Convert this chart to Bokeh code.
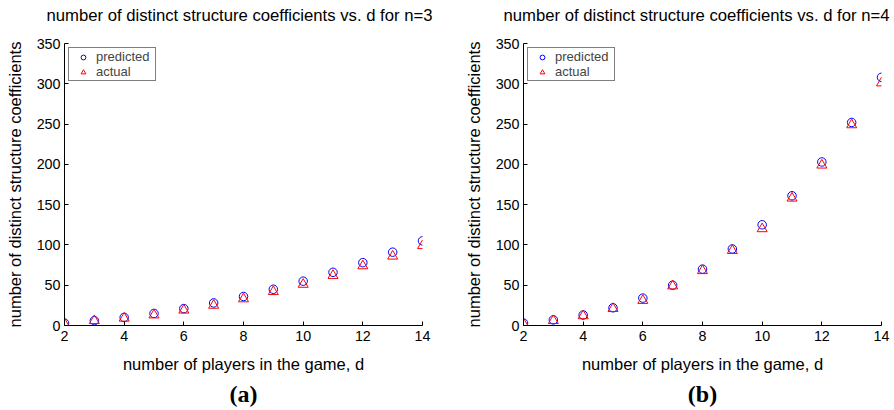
from bokeh.plotting import figure
from bokeh.layouts import row
from bokeh.models import Range1d, FixedTicker, Legend, LegendItem, Title
from bokeh.embed import file_html
from bokeh.resources import INLINE

d = [2, 3, 4, 5, 6, 7, 8, 9, 10, 11, 12, 13, 14]
pred_n3 = [3, 6, 10, 15, 21, 28, 36, 45, 55, 66, 78, 91, 105]
act_n3 = [2, 6, 9, 13, 19, 25, 33, 42, 51, 62, 74, 86, 99]
pred_n4 = [3, 7, 13, 22, 34, 50, 70, 95, 125, 161, 203, 252, 308]
act_n4 = [2, 6, 12, 21, 31, 49, 68, 93, 120, 158, 199, 249, 301]
x_ticks = [2, 4, 6, 8, 10, 12, 14]
y_ticks = [0, 50, 100, 150, 200, 250, 300, 350]
titles = ["number of distinct structure coefficients vs. d for n=3",
          "number of distinct structure coefficients vs. d for n=4"]
panel_tags = ["(a)", "(b)"]
x_label = "number of players in the game, d"
y_label = "number of distinct structure coefficients"

FONT = "Liberation Sans"


def make_panel(width, left, right, pred, act, title, tag, t_align, t_offset):
    p = figure(width=width, height=410, output_backend="svg", toolbar_location=None,
               x_range=Range1d(2, 14), y_range=Range1d(0, 350),
               min_border_left=left, min_border_right=right,
               min_border_top=43, min_border_bottom=85)
    p.outline_line_color = None
    p.xgrid.grid_line_color = None
    p.ygrid.grid_line_color = None
    p.background_fill_color = "white"
    p.border_fill_color = "white"

    r1 = p.scatter(d, pred, marker="circle", size=8.5, fill_color=None,
                   line_color="#0000FF", line_width=1)
    r2 = p.scatter(d, act, marker="triangle", size=10, fill_color=None,
                   line_color="#FF0000", line_width=1)

    for ax in (p.xaxis[0], p.yaxis[0]):
        ax.axis_line_color = "black"
        ax.major_tick_line_color = "black"
        ax.major_tick_in = 4
        ax.major_tick_out = 0
        ax.minor_tick_line_color = None
        ax.major_label_text_font = FONT
        ax.major_label_text_font_size = "14.3px"
        ax.major_label_text_color = "black"
        ax.axis_label_text_font = FONT
        ax.axis_label_text_font_size = "16.5px"
        ax.axis_label_text_font_style = "normal"
        ax.axis_label_text_color = "black"
    p.xaxis.ticker = FixedTicker(ticks=x_ticks)
    p.yaxis.ticker = FixedTicker(ticks=y_ticks)
    p.xaxis.axis_label = x_label
    p.yaxis.axis_label = y_label
    p.xaxis.major_label_standoff = 5
    p.yaxis.major_label_standoff = 4
    p.xaxis.axis_label_standoff = 11
    p.yaxis.axis_label_standoff = 10

    legend = Legend(items=[LegendItem(label="predicted", renderers=[r1]),
                           LegendItem(label="actual", renderers=[r2])],
                    location="top_left", margin=4, padding=1, spacing=0,
                    glyph_width=26, glyph_height=12, label_height=12,
                    label_width=58, label_standoff=0, label_text_font=FONT,
                    label_text_font_size="13px", border_line_color="black",
                    border_line_width=1, background_fill_color="white",
                    background_fill_alpha=1)
    p.add_layout(legend, "center")

    # thin spacer between the frame and the title
    p.add_layout(Title(text=" ", text_font_size="1px", standoff=16), "above")
    p.add_layout(Title(text=title, align=t_align, offset=t_offset, standoff=0,
                       text_font=FONT, text_font_size="16.7px",
                       text_font_style="normal", text_color="black"), "above")
    p.add_layout(Title(text=tag, align="center", standoff=7,
                       text_font="Liberation Serif", text_font_size="24px",
                       text_font_style="bold", text_color="black"), "below")
    return p


pa = make_panel(450, 64, 28, pred_n3, act_n3, titles[0], panel_tags[0], "left", -18)
pb = make_panel(444, 73, 13, pred_n4, act_n4, titles[1], panel_tags[1], "right", -8)

layout = row(pa, pb)
open("out.html", "w").write(file_html(layout, INLINE))
